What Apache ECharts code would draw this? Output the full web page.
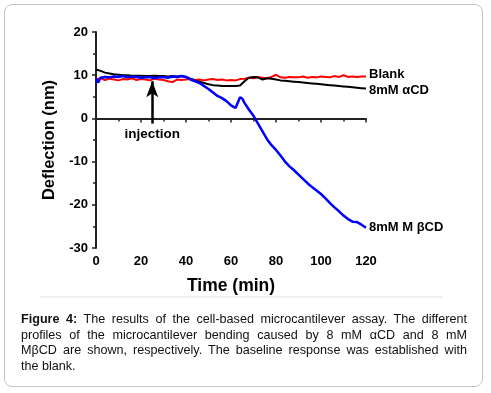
<!DOCTYPE html>
<html>
<head>
<meta charset="utf-8">
<script src="https://cdn.jsdelivr.net/npm/echarts@6/dist/echarts.min.js"></script>
<style>
  body { margin: 0; background: #fff; }
  #frame { position: absolute; left: 4px; top: 4px; width: 477px; height: 381px;
    border: 1.5px solid #c4c4c4; border-radius: 8px; }
  #sep { position: absolute; left: 40px; top: 296px; width: 403px; height: 2px; background: #f0f0f0; }
  #chart { position: absolute; left: 0; top: 0; width: 491px; height: 393px; }
  #caption { position: absolute; left: 21px; top: 312px; width: 446px;
    font-family: Arial, "Liberation Sans", sans-serif; font-size: 12.6px; line-height: 15.6px; color: #111; }
  #caption .j { text-align: justify; text-align-last: justify; }
</style>
</head>
<body>
<div id="frame"></div>
<div id="sep"></div>
<div id="chart"></div>
<div id="caption">
  <div class="j"><b>Figure 4:</b> The results of the cell-based microcantilever assay. The different</div>
  <div class="j">profiles of the microcantilever bending caused by 8 mM αCD and 8 mM</div>
  <div class="j">MβCD are shown, respectively. The baseline response was established with</div>
  <div>the blank.</div>
</div>
<script>
const minutes = [0, 2, 4, 6, 8, 10, 12, 14, 16, 18, 20, 22, 24, 26, 28, 30, 32, 34, 36, 38,
  40, 42, 44, 46, 48, 50, 52, 54, 56, 58, 60, 62, 64, 66, 68, 70, 72, 74, 76, 78,
  80, 82, 84, 86, 88, 90, 92, 94, 96, 98, 100, 102, 104, 106, 108, 110, 112, 114, 116, 118, 120];

const blank = [9.0, 9.3, 8.9, 9.2, 9.0, 8.8, 9.1, 9.0, 9.3, 8.9, 9.1, 9.0, 8.8, 9.2, 9.0, 8.9, 8.6, 8.4, 9.0, 8.9,
  9.0, 9.1, 8.9, 9.0, 8.8, 9.0, 9.1, 8.9, 9.0, 8.8, 8.9, 8.8, 9.1, 9.2, 9.4, 9.3, 9.5, 9.4, 9.3, 9.6,
  10.1, 9.5, 9.4, 9.6, 9.5, 9.5, 9.7, 9.4, 9.6, 9.5, 9.7, 9.6, 9.5, 9.8, 9.6, 10.0, 9.6, 9.7, 9.6, 9.7, 9.7];

const alphaCD = [11.3, 11.0, 10.6, 10.4, 10.2, 10.1, 10.0, 10.0, 9.9, 9.9, 9.9, 9.8, 9.8, 9.9, 9.8, 9.8, 9.7, 9.8, 9.7, 9.8,
  9.6, 9.2, 8.8, 8.5, 8.2, 7.9, 7.7, 7.6, 7.5, 7.5, 7.5, 7.5, 7.6, 8.6, 9.4, 9.6, 9.5, 9.0, 9.3, 9.2,
  9.0, 8.8, 8.7, 8.6, 8.5, 8.4, 8.3, 8.2, 8.1, 8.0, 7.9, 7.8, 7.7, 7.6, 7.5, 7.4, 7.3, 7.2, 7.1, 7.0, 6.9];

const betaTime = [0, 1, 2, 4, 6, 8, 10, 12, 14, 16, 18, 20, 22, 24, 26, 28, 30, 32, 34, 36, 38,
  40, 42, 44, 46, 48, 50, 52, 54, 56, 58, 60, 62, 63, 64, 65, 66, 68, 70, 72, 74, 76, 78,
  80, 82, 84, 86, 88, 90, 92, 94, 96, 98, 100, 102, 104, 106, 108, 110, 112, 114, 116, 118, 120];
const betaCD = [9.2, 8.3, 9.4, 9.6, 9.5, 9.7, 9.6, 9.8, 9.5, 9.7, 9.6, 9.4, 9.5, 9.6, 9.3, 9.5, 9.6, 9.4, 9.7, 9.6, 9.8,
  9.6, 9.0, 8.6, 8.2, 7.5, 6.8, 6.0, 5.2, 4.7, 4.0, 3.0, 2.4, 3.6, 4.9, 4.6, 3.6, 2.0, 0.6, -1.2, -3.0, -4.8, -6.2,
  -7.3, -8.6, -10.0, -11.1, -12.0, -13.0, -14.0, -15.0, -15.9, -16.7, -17.5, -18.5, -19.6, -20.6, -21.5, -22.5, -23.3, -23.9, -24.0, -24.6, -25.3];

const injectionAt = 25;

const font = 'Arial, "Liberation Sans", sans-serif';
const zip = (xs, ys) => xs.map((x, i) => [x, ys[i]]);

const chart = echarts.init(document.getElementById('chart'));
chart.setOption({
  animation: false,
  textStyle: { fontFamily: font },
  grid: { left: 96, top: 32, width: 270, height: 216 },
  xAxis: {
    type: 'value', min: 0, max: 120, interval: 20,
    name: 'Time (min)', nameLocation: 'middle', nameGap: 29,
    nameTextStyle: { fontSize: 17.5, fontWeight: 'bold', color: '#000', fontFamily: font },
    axisLine: { lineStyle: { color: '#222', width: 2 } },
    axisTick: { length: 4, lineStyle: { color: '#222', width: 1.5 } },
    minorTick: { show: true, splitNumber: 2, length: 3, lineStyle: { color: '#222', width: 1.5 } },
    axisLabel: { fontSize: 13, fontWeight: 'bold', color: '#000', margin: 7, fontFamily: font },
    splitLine: { show: false }
  },
  yAxis: {
    type: 'value', min: -30, max: 20, interval: 10,
    name: 'Deflection (nm)', nameLocation: 'middle', nameGap: 37,
    nameTextStyle: { fontSize: 16.5, fontWeight: 'bold', color: '#000', fontFamily: font },
    axisLine: { show: true, lineStyle: { color: '#222', width: 2 } },
    axisTick: { show: true, length: 4, lineStyle: { color: '#222', width: 1.5 } },
    minorTick: { show: true, splitNumber: 2, length: 3, lineStyle: { color: '#222', width: 1.5 } },
    axisLabel: { fontSize: 13, fontWeight: 'bold', color: '#000', margin: 8, fontFamily: font },
    splitLine: { show: false }
  },
  series: [
    {
      name: 'Blank', type: 'line', data: zip(minutes, blank),
      symbol: 'none', lineStyle: { color: '#ff0000', width: 2 },
      endLabel: { show: true, formatter: 'Blank', color: '#000', fontSize: 13, fontWeight: 'bold', distance: 3, offset: [0, -2] }
    },
    {
      name: '8mM αCD', type: 'line', data: zip(minutes, alphaCD),
      symbol: 'none', lineStyle: { color: '#000', width: 2 },
      endLabel: { show: true, formatter: '8mM αCD', color: '#000', fontSize: 13, fontWeight: 'bold', distance: 3, offset: [0, 2] },
      markLine: {
        silent: true, symbol: ['none', 'arrow'], symbolSize: [9, 16],
        lineStyle: { color: '#000', width: 2.5, type: 'solid' },
        label: { show: true, position: 'start', formatter: 'injection', color: '#000', fontSize: 13.5, fontWeight: 'bold', distance: 4 },
        data: [[{ coord: [injectionAt, -1.2] }, { coord: [injectionAt, 8.6] }]]
      }
    },
    {
      name: '8mM M βCD', type: 'line', data: zip(betaTime, betaCD),
      symbol: 'none', lineStyle: { color: '#0000ff', width: 2.5 },
      endLabel: { show: true, formatter: '8mM M βCD', color: '#000', fontSize: 13, fontWeight: 'bold', distance: 3 }
    }
  ]
});
</script>
</body>
</html>
